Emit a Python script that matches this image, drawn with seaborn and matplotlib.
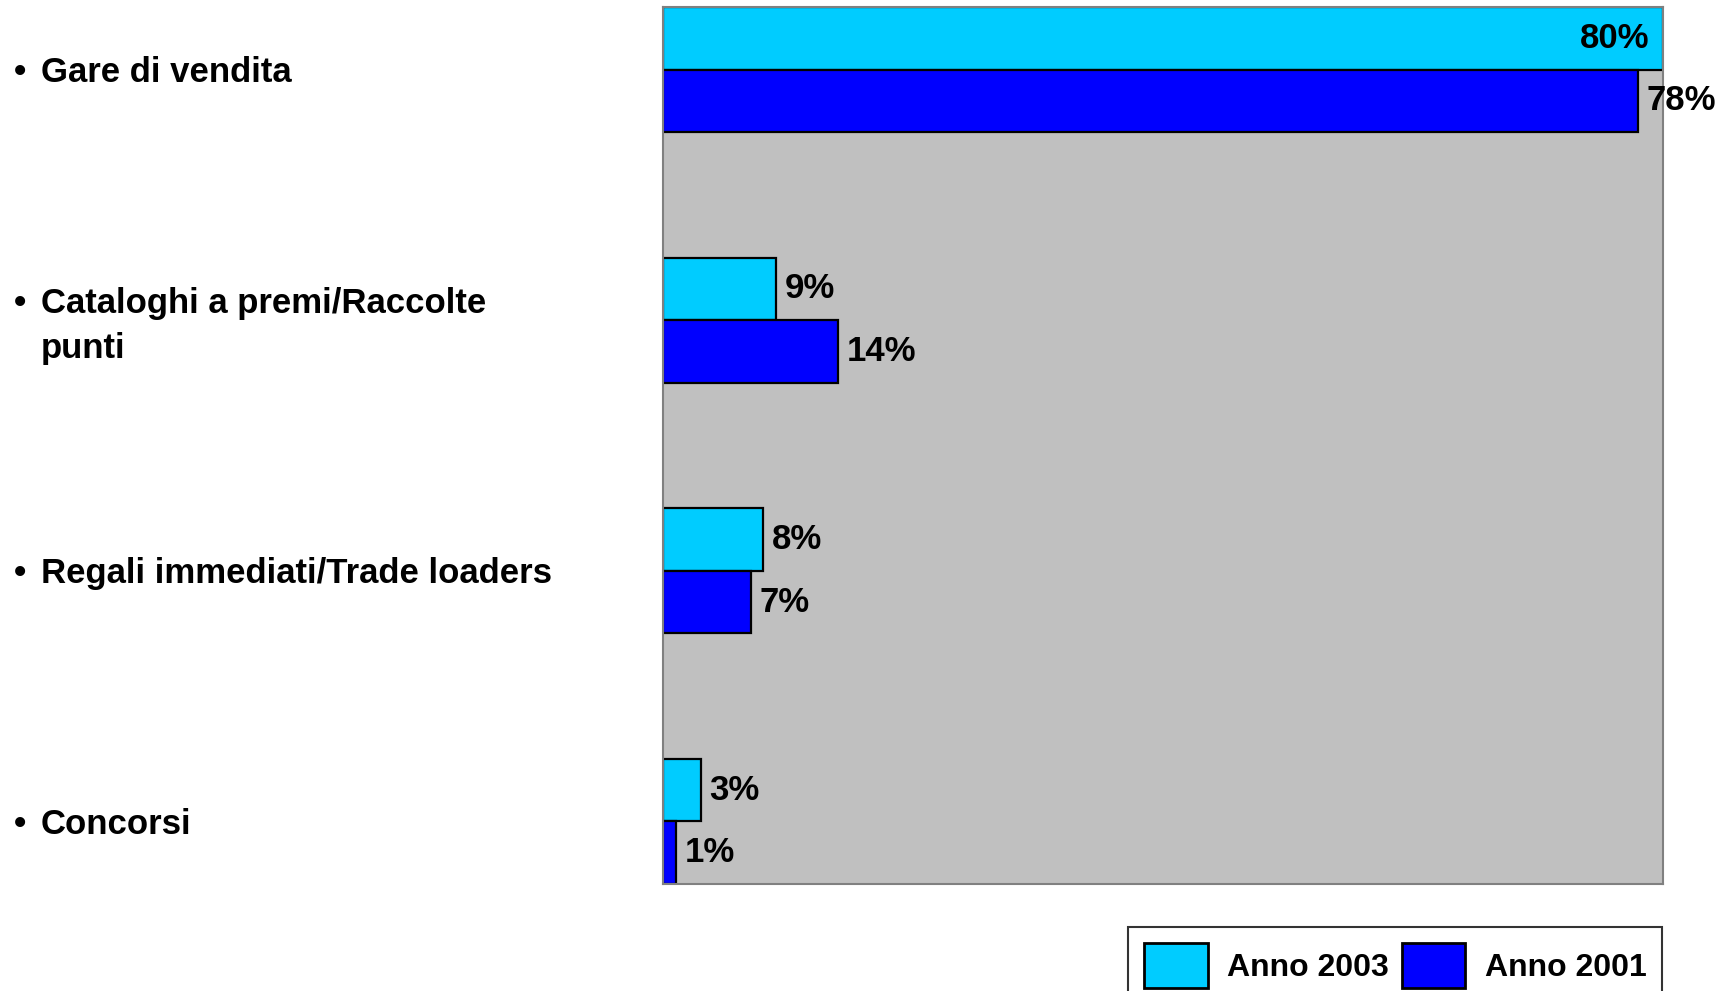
import matplotlib
matplotlib.use("Agg")
import matplotlib.pyplot as plt
import seaborn as sns
import pandas as pd
from matplotlib.transforms import blended_transform_factory, offset_copy

# ---- data ----
categories = ["Gare di vendita", "Cataloghi a premi/Raccolte\npunti",
              "Regali immediati/Trade loaders", "Concorsi"]
series_names = ["Anno 2003", "Anno 2001"]
values_2003 = [80, 9, 8, 3]
values_2001 = [78, 14, 7, 1]
colors = ["#00CCFF", "#0000FF"]

df = pd.DataFrame({
    "categoria": categories * 2,
    "anno": [series_names[0]] * len(categories) + [series_names[1]] * len(categories),
    "valore": values_2003 + values_2001,
})

sns.set_theme(style="white")
plt.rcParams["font.family"] = ["Liberation Sans", "DejaVu Sans"]
plt.rcParams["font.weight"] = "bold"
plt.rcParams["text.color"] = "black"

W, H, DPI = 1728, 991, 100
fig = plt.figure(figsize=(W / DPI, H / DPI), dpi=DPI)
ax = fig.add_axes([663 / W, 1 - 884 / H, (1663 - 663) / W, (884 - 7) / H])

sns.barplot(data=df, y="categoria", x="valore", hue="anno", order=categories,
            hue_order=series_names, palette=colors, saturation=1, width=0.5,
            orient="h", edgecolor="black", linewidth=1.6, ax=ax, legend=True)

ax.set_facecolor("#C0C0C0")
ax.set_xlim(0, 80)
ax.set_ylim(len(categories) - 0.75, -0.25)
ax.set_xlabel("")
ax.set_ylabel("")
ax.set_xticks([])
ax.set_yticks([])
for s in ax.spines.values():
    s.set_color("#808080")
    s.set_linewidth(1.5)

FS = 25
# value labels
xmax = ax.get_xlim()[1]
for cont in ax.containers:
    for rect in cont:
        v = rect.get_width()
        yc = rect.get_y() + rect.get_height() / 2
        if v >= 0.99 * xmax:
            ax.annotate(f"{v:.0f}%", (v, yc), xytext=(-14, 0), textcoords="offset pixels",
                        ha="right", va="center", fontsize=FS, fontweight="bold",
                        color="black", annotation_clip=False)
        else:
            ax.annotate(f"{v:.0f}%", (v, yc), xytext=(9, 0), textcoords="offset pixels",
                        ha="left", va="center", fontsize=FS, fontweight="bold",
                        color="black", annotation_clip=False)

# category labels with bullets
tr = offset_copy(blended_transform_factory(fig.transFigure, ax.transData),
                 fig=fig, x=0, y=-3, units="dots")
labels = []
for i, cat in enumerate(categories):
    extra = -3 if "\n" in cat else 0
    t = fig.text(41 / W, i, cat,
                 transform=offset_copy(tr, fig=fig, x=0, y=extra, units="dots"),
                 ha="left", va="center", fontsize=FS, fontweight="bold",
                 color="black", linespacing=1.45)
    labels.append(t)
fig.canvas.draw()
renderer = fig.canvas.get_renderer()
for t in labels:
    bb = t.get_window_extent(renderer)
    fig.text(14 / W, bb.y1 / H, "•", ha="left", va="top", fontsize=FS,
             fontweight="bold", color="black")

# legend
leg = ax.get_legend()
handles = leg.legend_handles
leg.remove()
lg = fig.legend(handles, series_names, loc="upper left",
                bbox_to_anchor=(1128 / W, 1 - 927 / H), bbox_transform=fig.transFigure,
                ncol=2, frameon=True, fancybox=False, edgecolor="#333333",
                framealpha=1, borderaxespad=0, borderpad=0.5,
                handlelength=2.0, handleheight=1.8, handletextpad=0.6,
                columnspacing=0.4, prop={"size": 23, "weight": "bold"})
lg.get_frame().set_linewidth(1.5)
for txt in lg.get_texts():
    txt.set_color("black")
for h in lg.legend_handles:
    h.set_edgecolor("black")
    h.set_linewidth(2)

fig.savefig("out.png", dpi=DPI)
